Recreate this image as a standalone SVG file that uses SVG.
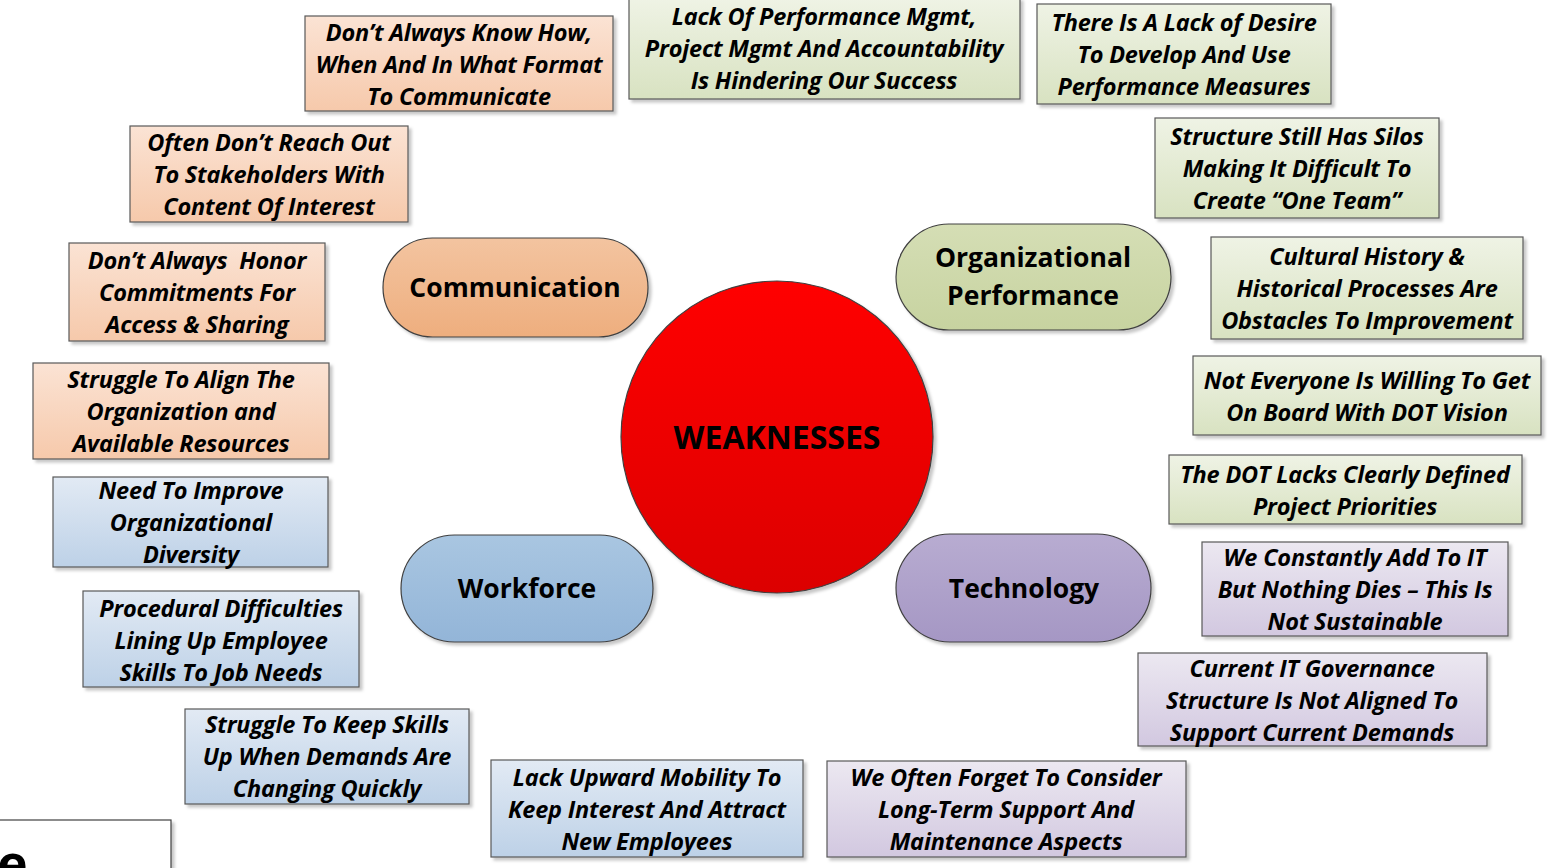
<svg xmlns="http://www.w3.org/2000/svg" width="1552" height="868" viewBox="0 0 1552 868">
<defs>
<linearGradient id="gPeach" x1="0" y1="0" x2="0" y2="1"><stop offset="0" stop-color="#fbe3d4"/><stop offset="1" stop-color="#f6c9ab"/></linearGradient>
<linearGradient id="gGreen" x1="0" y1="0" x2="0" y2="1"><stop offset="0" stop-color="#eff3e5"/><stop offset="1" stop-color="#d8e2c1"/></linearGradient>
<linearGradient id="gBlue" x1="0" y1="0" x2="0" y2="1"><stop offset="0" stop-color="#e2eaf4"/><stop offset="1" stop-color="#bdd1e7"/></linearGradient>
<linearGradient id="gPurple" x1="0" y1="0" x2="0" y2="1"><stop offset="0" stop-color="#ece8f1"/><stop offset="1" stop-color="#d2c8e0"/></linearGradient>
<linearGradient id="ePeach" x1="0" y1="0" x2="0" y2="1"><stop offset="0" stop-color="#f3c4a0"/><stop offset="1" stop-color="#eeae7e"/></linearGradient>
<linearGradient id="eGreen" x1="0" y1="0" x2="0" y2="1"><stop offset="0" stop-color="#d5deb5"/><stop offset="1" stop-color="#c7d3a0"/></linearGradient>
<linearGradient id="eBlue" x1="0" y1="0" x2="0" y2="1"><stop offset="0" stop-color="#a9c6e1"/><stop offset="1" stop-color="#93b5d8"/></linearGradient>
<linearGradient id="ePurple" x1="0" y1="0" x2="0" y2="1"><stop offset="0" stop-color="#b8acd1"/><stop offset="1" stop-color="#a597c4"/></linearGradient>
<linearGradient id="gRed" x1="0" y1="0" x2="0" y2="1"><stop offset="0" stop-color="#ff0000"/><stop offset="1" stop-color="#dc0000"/></linearGradient>
<filter id="sh" x="-10%" y="-10%" width="130%" height="130%"><feDropShadow dx="3" dy="3" stdDeviation="1.5" flood-color="#000" flood-opacity="0.22"/></filter>
</defs>
<style>
.box{stroke:#595959;stroke-width:1.2;filter:url(#sh)}
.ell{stroke:#404040;stroke-width:1.2;filter:url(#sh)}
.bt{font-family:"Open Sans",Lato,"Liberation Sans",sans-serif;font-weight:bold;font-style:italic;font-size:23.5px;letter-spacing:-0.2px;fill:#000;text-anchor:middle}
.et{font-family:"Open Sans",Lato,"Liberation Sans",sans-serif;font-weight:bold;font-size:26.5px;fill:#000;text-anchor:middle}
.ct{font-family:"Open Sans",Lato,"Liberation Sans",sans-serif;font-weight:bold;font-size:32px;fill:#000;text-anchor:middle}
</style>
<rect width="1552" height="868" fill="#fff"/>

<g id="center">
<circle cx="777" cy="437" r="156" fill="url(#gRed)" class="ell"/>
<text class="ct" x="777" y="449">WEAKNESSES</text>
</g>

<g id="cat-communication">
<rect x="383" y="238" width="265" height="99" rx="49.5" fill="url(#ePeach)" class="ell"/>
<text class="et" x="515" y="297">Communication</text>
</g>
<g id="cat-orgperf">
<rect x="896" y="224" width="275" height="106" rx="53" fill="url(#eGreen)" class="ell"/>
<text class="et" x="1033" y="267">Organizational</text>
<text class="et" x="1033" y="305">Performance</text>
</g>
<g id="cat-workforce">
<rect x="401" y="535" width="252" height="107" rx="53.5" fill="url(#eBlue)" class="ell"/>
<text class="et" x="527" y="598">Workforce</text>
</g>
<g id="cat-technology">
<rect x="896" y="534" width="255" height="108" rx="54" fill="url(#ePurple)" class="ell"/>
<text class="et" x="1024" y="598">Technology</text>
</g>

<g id="b1"><rect class="box" x="305" y="16" width="308" height="95" fill="url(#gPeach)"/>
<text class="bt" x="459" y="41">Don’t Always Know How,</text><text class="bt" x="459" y="73">When And In What Format</text><text class="bt" x="459" y="105">To Communicate</text></g>
<g id="b2"><rect class="box" x="629" y="-2" width="391" height="101" fill="url(#gGreen)"/>
<text class="bt" x="824" y="25">Lack Of Performance Mgmt,</text><text class="bt" x="824" y="57">Project Mgmt And Accountability</text><text class="bt" x="824" y="89">Is Hindering Our Success</text></g>
<g id="b3"><rect class="box" x="1037" y="4" width="294" height="100" fill="url(#gGreen)"/>
<text class="bt" x="1184" y="31">There Is A Lack of Desire</text><text class="bt" x="1184" y="63">To Develop And Use</text><text class="bt" x="1184" y="95">Performance Measures</text></g>
<g id="b4"><rect class="box" x="130" y="126" width="278" height="96" fill="url(#gPeach)"/>
<text class="bt" x="269" y="151">Often Don’t Reach Out</text><text class="bt" x="269" y="183">To Stakeholders With</text><text class="bt" x="269" y="215">Content Of Interest</text></g>
<g id="b5"><rect class="box" x="1155" y="118" width="284" height="100" fill="url(#gGreen)"/>
<text class="bt" x="1297" y="145">Structure Still Has Silos</text><text class="bt" x="1297" y="177">Making It Difficult To</text><text class="bt" x="1297" y="209">Create “One Team”</text></g>
<g id="b6"><rect class="box" x="69" y="243" width="256" height="98" fill="url(#gPeach)"/>
<text class="bt" x="197" y="269" xml:space="preserve">Don’t Always  Honor</text><text class="bt" x="197" y="301">Commitments For</text><text class="bt" x="197" y="333">Access &amp; Sharing</text></g>
<g id="b7"><rect class="box" x="1211" y="237" width="312" height="102" fill="url(#gGreen)"/>
<text class="bt" x="1367" y="265">Cultural History &amp;</text><text class="bt" x="1367" y="297">Historical Processes Are</text><text class="bt" x="1367" y="329">Obstacles To Improvement</text></g>
<g id="b8"><rect class="box" x="33" y="363" width="296" height="96" fill="url(#gPeach)"/>
<text class="bt" x="181" y="388">Struggle To Align The</text><text class="bt" x="181" y="420">Organization and</text><text class="bt" x="181" y="452">Available Resources</text></g>
<g id="b9"><rect class="box" x="1193" y="356" width="348" height="79" fill="url(#gGreen)"/>
<text class="bt" x="1367" y="389">Not Everyone Is Willing To Get</text><text class="bt" x="1367" y="421">On Board With DOT Vision</text></g>
<g id="b10"><rect class="box" x="1169" y="455" width="353" height="69" fill="url(#gGreen)"/>
<text class="bt" x="1345" y="483">The DOT Lacks Clearly Defined</text><text class="bt" x="1345" y="515">Project Priorities</text></g>
<g id="b11"><rect class="box" x="53" y="477" width="275" height="90" fill="url(#gBlue)"/>
<text class="bt" x="191" y="499">Need To Improve</text><text class="bt" x="191" y="531">Organizational</text><text class="bt" x="191" y="563">Diversity</text></g>
<g id="b12"><rect class="box" x="1202" y="542" width="306" height="94" fill="url(#gPurple)"/>
<text class="bt" x="1355" y="566">We Constantly Add To IT</text><text class="bt" x="1355" y="598">But Nothing Dies – This Is</text><text class="bt" x="1355" y="630">Not Sustainable</text></g>
<g id="b13"><rect class="box" x="83" y="591" width="276" height="96" fill="url(#gBlue)"/>
<text class="bt" x="221" y="617">Procedural Difficulties</text><text class="bt" x="221" y="649">Lining Up Employee</text><text class="bt" x="221" y="681">Skills To Job Needs</text></g>
<g id="b14"><rect class="box" x="1138" y="653" width="349" height="93" fill="url(#gPurple)"/>
<text class="bt" x="1312" y="677">Current IT Governance</text><text class="bt" x="1312" y="709">Structure Is Not Aligned To</text><text class="bt" x="1312" y="741">Support Current Demands</text></g>
<g id="b15"><rect class="box" x="185" y="709" width="284" height="95" fill="url(#gBlue)"/>
<text class="bt" x="327" y="733">Struggle To Keep Skills</text><text class="bt" x="327" y="765">Up When Demands Are</text><text class="bt" x="327" y="797">Changing Quickly</text></g>
<g id="b16"><rect class="box" x="491" y="760" width="312" height="97" fill="url(#gBlue)"/>
<text class="bt" x="647" y="786">Lack Upward Mobility To</text><text class="bt" x="647" y="818">Keep Interest And Attract</text><text class="bt" x="647" y="850">New Employees</text></g>
<g id="b17"><rect class="box" x="827" y="761" width="359" height="96" fill="url(#gPurple)"/>
<text class="bt" x="1006" y="786">We Often Forget To Consider</text><text class="bt" x="1006" y="818">Long-Term Support And</text><text class="bt" x="1006" y="850">Maintenance Aspects</text></g>

<g id="partial">
<rect x="-2" y="820" width="173" height="60" fill="#fff" stroke="#404040" stroke-width="1.2" filter="url(#sh)"/>
<text x="-3" y="882" font-family="'Open Sans',Lato,'Liberation Sans',sans-serif" font-weight="bold" font-size="52px" fill="#000">e</text>
</g>
</svg>
